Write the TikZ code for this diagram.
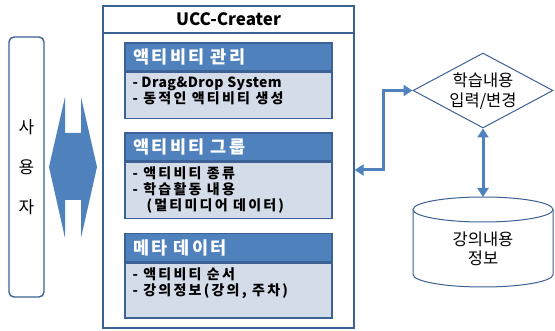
\documentclass[tikz,border=0pt]{standalone}
\usepackage{fontspec}
\setmainfont{Noto Sans CJK KR}
\newfontfamily\krwide[LetterSpace=16]{Noto Sans CJK KR}
\newfontfamily\krhead[LetterSpace=14]{Noto Sans CJK KR}
\newfontfamily\latwide[LetterSpace=3]{Noto Sans CJK KR}
\usetikzlibrary{arrows.meta}
\usetikzlibrary{shapes.geometric}
\definecolor{hdblue}{HTML}{4F81BD}
\definecolor{lnblue}{HTML}{3B6195}
\definecolor{bdgray}{HTML}{D5DCE9}
\begin{document}
\begin{tikzpicture}[x=1pt, y=-1pt, >={Triangle[width=11pt,length=9pt]},
  frame/.style={draw=lnblue, line width=1.4pt, fill=white},
  head/.style={draw=lnblue, line width=1.4pt, fill=hdblue, text=white, minimum width=207pt, minimum height=28pt,
    inner xsep=8pt, text width=191pt, align=left, font=\fontsize{17.5}{19}\selectfont\krhead\bfseries},
  body/.style={draw=lnblue, line width=1.4pt, fill=bdgray, minimum width=207pt, anchor=north},
  items/.style={anchor=north west, inner xsep=8pt, inner ysep=5pt, align=left, font=\fontsize{14}{16}\selectfont\krwide\bfseries},
  link/.style={draw=hdblue, line width=3pt},
  plain/.style={align=center, font=\fontsize{16.5}{20}\selectfont},
]
\useasboundingbox (0,0) rectangle (555,331);
% user
\node[draw=lnblue, line width=1.4pt, rounded corners=5pt, minimum width=35pt, minimum height=260pt, align=center,
  font=\fontsize{17}{40}\selectfont] (user) at (26.5,167) {사\\용\\자};
\fill[hdblue] (65,97) -- (65,133) -- (81,133) -- (81,97) -- (97,167) -- (81,238) -- (81,200)
  -- (65,200) -- (65,238) -- (49,167) -- cycle;
% UCC-Creater
\node[frame, minimum width=251pt, minimum height=322pt] (ucc) at (228.5,167) {};
\node[frame, minimum width=251pt, minimum height=27pt, font=\fontsize{17}{18}\selectfont\bfseries] (title) at (228.5,19.5) {UCC-Creater};
\node[head] (h1) at (228.5,57) {액티비티 관리};
\node[body, minimum height=46pt] (b1) at (h1.south) {};
\node[items] (t1) at (b1.north west) {{\latwide\bfseries - Drag\&Drop System}\\- 동적인 액티비티 생성};
\node[head] (h2) at (228.5,147) {액티비티 그룹};
\node[body, minimum height=56pt] (b2) at (h2.south) {};
\node[items] (t2) at (b2.north west) {- 액티비티 종류\\- 학습활동 내용\\\hspace*{14pt}(멀티미디어 데이터)};
\node[head] (h3) at (228.5,247.5) {메타 데이터};
\node[body, minimum height=55pt] (b3) at (h3.south) {};
\node[items] (t3) at (b3.north west) {- 액티비티 순서\\- 강의정보(강의, 주차)};
% right side
\node[diamond, draw=lnblue, line width=1pt, minimum width=140pt, minimum height=75pt, inner sep=0pt] (dia) at (483,90.5) {};
\node[plain] (diatxt) at (483,91) {학습내용\\입력/변경};
\coordinate (cyltop) at (483,197);
\draw[lnblue, line width=1pt, fill=white] (413,209.5) -- (413,274.5) arc[start angle=180, end angle=0, x radius=70, y radius=12.5]
  -- (553,209.5);
\draw[lnblue, line width=1pt, fill=white] (483,209.5) ellipse [x radius=70, y radius=12.5];
\node[plain, font=\fontsize{16.5}{19}\selectfont] (cyltxt) at (483,249) {강의내용\\정보};
\draw[link, <->] ([yshift=-3pt]ucc.east) -- ++(29,0) |- (dia.west);
\draw[link, <->] (dia.south) -- (cyltop);
\end{tikzpicture}
\end{document}
